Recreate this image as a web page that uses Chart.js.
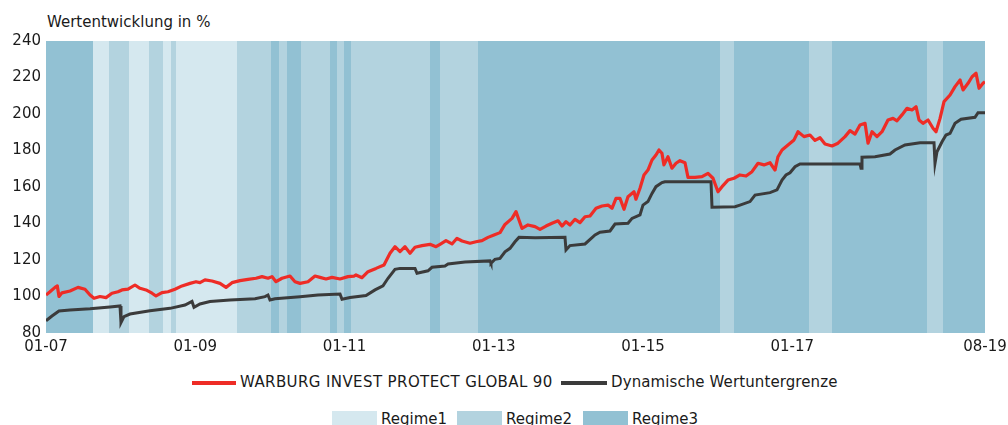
<!DOCTYPE html>
<html><head><meta charset="utf-8">
<script src="https://cdn.jsdelivr.net/npm/chart.js@4"></script>
<style>
html,body{margin:0;padding:0;background:#fff;}
body{width:1008px;height:425px;position:relative;overflow:hidden;font-family:"DejaVu Sans",Verdana,sans-serif;color:#1a1a1a;}
#wrap{position:absolute;left:0;top:0;width:1008px;height:365px;}
.t{position:absolute;font-size:15px;line-height:18px;white-space:nowrap;}
.ln{position:absolute;height:4px;}
.bx{position:absolute;height:16px;}
</style></head><body>
<div class="t" style="left:47px;top:13px">Wertentwicklung in %</div>
<div id="wrap"><canvas id="c" width="1008" height="365"></canvas></div>
<div id="leg"></div>
<script>
// ---- data ----
const fundMonths = [0,0.64,1.45,1.82,2.09,2.57,3.86,5.15,6.27,7.08,7.72,8.68,9.65,10.61,11.58,12.22,13.19,14.31,15.12,16.08,17.05,17.69,18.65,19.62,20.74,21.87,23.16,24.12,24.76,25.57,26.69,27.98,28.95,29.91,31.2,32.48,33.77,34.74,35.7,36.34,36.99,37.95,39.24,40.04,40.85,42.13,43.26,44.06,45.03,45.99,47.28,48.56,49.53,49.85,50.82,51.78,53.07,54.35,55.32,56.12,56.93,57.73,58.54,59.34,60.47,61.75,62.72,63.36,64.32,65.29,66.09,66.9,68.18,69.15,70.11,71.08,72.04,73.01,73.81,74.94,75.58,76.06,76.55,77.51,78.64,79.44,80.41,81.37,82.34,82.98,83.62,84.26,85.07,85.87,86.68,87.48,88.45,89.41,90.38,91.02,91.66,92.3,92.95,93.59,94.55,94.87,95.52,96.16,96.8,97.45,98.09,98.57,99.05,99.37,100.02,100.66,101.31,101.95,102.76,103.24,104.36,105.49,106.46,107.26,108.06,108.71,109.67,110.64,111.6,112.57,113.53,114.5,115.46,116.43,117.23,117.71,118.36,119.32,120.29,120.93,121.89,122.86,123.66,124.47,125.27,126.4,127.36,128.49,129.29,130.1,130.9,131.71,132.19,132.83,133.63,134.44,135.4,136.21,136.85,137.65,138.46,139.26,139.91,140.39,141.03,141.84,142.64,143.12,143.77,144.41,145.38,146.18,146.99,147.47,148.27,148.92,149.56,150.04,150.68,151];
const fundValues = [100.8,102.6,105,105.8,100,102,103,105,104,100.8,99,100,99.4,101.8,102.6,103.6,104,106.3,104.5,103.6,101.8,100.3,102.1,102.6,104,105.8,107.2,108.1,107.6,109.1,108.5,107.2,105,107.6,108.7,109.4,110,110.9,110,110.9,108.1,110,111.2,108.1,107.2,108.1,111.2,110.5,109.6,110.5,109.6,110.9,111.2,111.8,110.3,113.6,115.4,117.3,123.7,127.3,124.6,127.3,123.7,127,127.9,128.6,127.3,128.6,130.6,128.8,131.9,130.4,129.2,130,130.6,132.4,133.7,135,139.5,142.8,146.5,141.9,137.3,139.2,138.3,136.8,138.6,140.1,141.5,138.6,141,139.2,142.3,140.5,143.7,144.1,148.3,149.6,150.1,148.3,153.8,153.8,147.8,154.7,157.4,153.3,159.3,166.6,169.3,174.8,177.5,180.3,178.5,172.1,176.6,170.3,173,174.4,173.3,165.3,165.3,165.7,167.5,164.8,157.4,160.2,163.8,164.8,166.6,166,168.4,173,172.1,173.3,169.3,176.6,180.3,183,185.8,190.3,187.6,188.5,185.5,187,183.6,182.5,184,187.6,190.9,189,194,194.9,184,190.3,187.6,190.3,196.7,197.6,196.3,199.5,203.1,202.2,204,196.7,194.9,196.7,192.2,190.3,197.6,206.8,210.4,215,218.6,213.2,216.8,220.4,222.3,214.1,216.8,217.7];
const floorMonths = [0,0.96,2.09,3.86,7.08,10.29,11.9,12.06,12.54,13.51,16.72,19.94,22.35,23.48,23.8,24.76,26.37,29.59,33.61,35.22,35.7,36.02,36.83,40.85,43.74,47.28,47.6,48.89,51.46,52.91,54.19,55,56.12,56.93,59.34,59.66,61.43,62.07,64.16,64.65,67.38,71.4,71.56,72.2,73.01,73.81,74.62,75.42,76.06,78.64,83.46,83.62,84.26,86.68,88.29,89.09,90.7,91.5,93.59,94.24,95.52,96,96.8,97.45,98.09,99.05,99.53,106.94,107.1,110.8,111.6,113.21,114.02,116.43,117.55,118.36,119,119.64,120.45,121.25,130.9,131.06,131.22,133.31,135.72,136.53,138.13,140.55,142.8,142.96,143.28,144.09,144.73,145.38,146.18,147.15,149.39,149.88,151];
const floorValues = [86.7,89.3,92.1,92.6,93.3,94.3,94.8,85.7,89,90.4,92.2,93.5,95.3,97.3,94.1,95.9,97.2,98.1,98.8,99.9,100.8,98.1,98.8,99.9,100.8,101.4,98.5,99.4,100.5,103.6,105.8,110,114.9,115.4,115.4,112.7,114.1,116,116.7,117.8,118.9,119.5,118.2,120.4,120.9,124.5,126.4,130,132.4,132.2,132.4,125.5,127.9,128.8,133.7,135.2,135.9,139.7,140.1,142.8,144.7,150.1,152,156.5,160.2,162.4,162.9,162.9,148.9,149.2,150.1,152,155.6,156.9,158.4,163.8,166.6,167.8,171.1,172.6,172.6,170.3,176.3,176.6,178.1,180.3,183,184.3,184.3,173,179.3,184.8,188.5,189.4,194.9,197.1,198.2,200.7,200.7];
const seriesNames = ['WARBURG INVEST PROTECT GLOBAL 90','Dynamische Wertuntergrenze'];
const tickMonths = [0,24,48,72,96,120,151];
const tickLabels = ['01-07','01-09','01-11','01-13','01-15','01-17','08-19'];
const bandStart  = [0,7.6,10.2,13.4,16.6,18.8,20.1,20.9,30.7,36.2,37.5,38.7,41.0,45.7,46.8,47.9,49.0,61.8,63.4,69.5,108.4,110.6,122.7,126.4,141.7,144.2];
const bandEnd    = [7.6,10.2,13.4,16.6,18.8,20.1,20.9,30.7,36.2,37.5,38.7,41.0,45.7,46.8,47.9,49.0,61.8,63.4,69.5,108.4,110.6,122.7,126.4,141.7,144.2,151];
const bandRegime = [3,1,2,1,2,1,2,1,2,3,2,3,2,3,2,3,2,3,2,3,2,3,2,3,2,3];
const regimeNames = ['Regime1','Regime2','Regime3'];

// ---- styles ----
const regimeColors = ['#d5e8ef','#b3d3df','#92c1d3'];
const lineColors = ['#ee2c26','#3b3b3b'];
const FONT = '"DejaVu Sans", Verdana, sans-serif';

const bandsPlugin = {
  id: 'bands',
  beforeDatasetsDraw(chart) {
    const {ctx, chartArea: a, scales: {x}} = chart;
    ctx.save();
    for (let i = 0; i < bandStart.length; i++) {
      const x0 = Math.round(x.getPixelForValue(bandStart[i]));
      const x1 = Math.round(x.getPixelForValue(bandEnd[i]));
      ctx.fillStyle = regimeColors[bandRegime[i] - 1];
      ctx.fillRect(x0, a.top, x1 - x0, a.bottom - a.top);
    }
    ctx.restore();
  }
};

new Chart(document.getElementById('c'), {
  type: 'line',
  data: {
    datasets: [
      {label: seriesNames[0], data: fundMonths.map((m, i) => ({x: m, y: fundValues[i]})),
       borderColor: lineColors[0], borderWidth: 3.2, pointRadius: 0, tension: 0, borderJoinStyle: 'round'},
      {label: seriesNames[1], data: floorMonths.map((m, i) => ({x: m, y: floorValues[i]})),
       borderColor: lineColors[1], borderWidth: 3, pointRadius: 0, tension: 0}
    ]
  },
  options: {
    responsive: false, animation: false, devicePixelRatio: 1,
    layout: {padding: {left: 0, right: 23, top: 41, bottom: 0}},
    plugins: {legend: {display: false}, title: {display: false}, tooltip: {enabled: false}},
    scales: {
      x: {
        type: 'linear', min: 0, max: 151,
        grid: {display: false, drawTicks: false}, border: {display: false},
        afterBuildTicks: s => { s.ticks = tickMonths.map(v => ({value: v})); },
        afterFit: s => { s.height = 32; s.paddingLeft = 0; s.paddingRight = 0; },
        ticks: {autoSkip: false, maxRotation: 0, padding: 5, color: '#1a1a1a',
          font: {family: FONT, size: 15},
          callback: v => { const i = tickMonths.indexOf(v); return i >= 0 ? tickLabels[i] : ''; }}
      },
      y: {
        min: 80, max: 240,
        grid: {display: false, drawTicks: false}, border: {display: false},
        afterFit: s => { s.width = 46; },
        ticks: {stepSize: 20, padding: 5, color: '#1a1a1a', font: {family: FONT, size: 15}}
      }
    }
  },
  plugins: [bandsPlugin]
});

// ---- HTML legend ----
const leg = document.getElementById('leg');
function add(html) { leg.insertAdjacentHTML('beforeend', html); }
add(`<div class="ln" style="left:192px;top:381px;width:44px;background:${lineColors[0]}"></div>`);
add(`<div class="t" style="left:240px;top:373px;letter-spacing:0.4px">${seriesNames[0]}</div>`);
add(`<div class="ln" style="left:561px;top:381px;width:46px;background:${lineColors[1]}"></div>`);
add(`<div class="t" style="left:611px;top:373px;letter-spacing:0.1px">${seriesNames[1]}</div>`);
const bxLeft = [332, 457, 583];
regimeNames.forEach((n, i) => {
  add(`<div class="bx" style="left:${bxLeft[i]}px;top:411px;width:45px;background:${regimeColors[i]}"></div>`);
  add(`<div class="t" style="left:${bxLeft[i] + 49}px;top:410px">${n}</div>`);
});
</script>
</body></html>
